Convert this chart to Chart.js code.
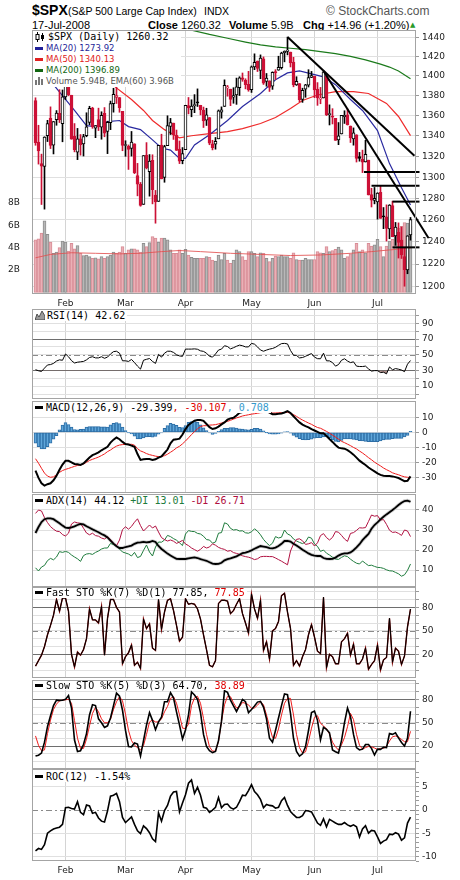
<!DOCTYPE html>
<html>
<head>
<meta charset="utf-8">
<script src="https://cdn.jsdelivr.net/npm/chart.js@4.4.1/dist/chart.umd.min.js"></script>
<style>
  body { margin: 0; background: #fff; width: 460px; height: 880px; position: relative; overflow: hidden; font-family: 'Liberation Sans', Arial, sans-serif; }
  canvas { position: absolute; left: 0; }
  .t { position: absolute; white-space: nowrap; color: #000; font-family: 'Liberation Sans', Arial, sans-serif; }
  .lg { position: absolute; z-index: 5; background: #fff; font-family: 'DejaVu Sans Mono', monospace; font-size: 10px; line-height: 11px; white-space: nowrap; padding-right: 2px; }
  .ma { font-family: 'DejaVu Sans', sans-serif; font-size: 8.5px; height: 11px; line-height: 11px; }
  .sw { display: inline-block; width: 8px; height: 3px; vertical-align: middle; margin: 0 3px 1px 2px; }
  svg { vertical-align: middle; }
</style>
</head>
<body>

<!-- header -->
<div class="t" style="left:32px;top:2px;font-size:14px;font-weight:bold">$SPX</div>
<div class="t" style="left:68px;top:5px;font-size:10.5px">(S&amp;P 500 Large Cap Index)</div>
<div class="t" style="left:204px;top:5px;font-size:10.5px">INDX</div>
<div class="t" style="left:326px;top:4px;font-size:12px;color:#555">&copy; StockCharts.com</div>
<div class="t" style="left:32px;top:19px;font-size:11px">17-Jul-2008</div>
<div class="t" style="left:148px;top:19px;font-size:11px"><b>Close</b> 1260.32</div>
<div class="t" style="left:229px;top:19px;font-size:11px"><b>Volume</b> 5.9B</div>
<div class="t" style="left:303px;top:19px;font-size:11px"><b>Chg</b> +14.96 (+1.20%)</div>
<div class="t" style="left:410px;top:21px;font-size:7px;color:#2a9a2a;font-family:'DejaVu Sans'">&#9650;</div>

<!-- legends -->
<div class="lg" style="left:33px;top:31px;width:146px;height:56px">
  <div style="height:12px;line-height:12px"><svg width="10" height="10" style="margin:0 3px 0 2px"><line x1="2.5" y1="0" x2="2.5" y2="10" stroke="#000"/><rect x="1" y="2.5" width="3" height="5" fill="#fff" stroke="#000"/><line x1="7.5" y1="1" x2="7.5" y2="9" stroke="#000"/><rect x="6" y="3" width="3" height="4" fill="#000"/></svg>$SPX (Daily) 1260.32</div>
  <div class="ma" style="color:#1f1f99"><span class="sw" style="background:#1f1f99"></span>MA(20) 1273.92</div>
  <div class="ma" style="color:#e02020"><span class="sw" style="background:#e02020"></span>MA(50) 1340.13</div>
  <div class="ma" style="color:#116611"><span class="sw" style="background:#116611"></span>MA(200) 1396.89</div>
  <div class="ma" style="color:#555"><svg width="9" height="8" style="margin:0 2px 1px 2px"><rect x="0" y="3" width="2" height="5" fill="#777"/><rect x="3" y="0" width="2" height="8" fill="#777"/><rect x="6" y="2" width="2" height="6" fill="#777"/></svg>Volume 5.94B, EMA(60) 3.96B</div>
</div>
<div class="lg" style="left:33px;top:310px;height:11px"><svg width="10" height="9" style="margin:0 2px 1px 2px"><path d="M0 9 L2 3 L4 6 L7 0 L10 5 L10 9 Z" fill="#999" stroke="#333" stroke-width="0.8"/></svg>RSI(14) 42.62</div>
<div class="lg" style="left:33px;top:402px;height:11px"><span class="sw" style="background:#000"></span>MACD(12,26,9) -29.399<span style="color:#e00000">, -30.107</span><span style="color:#3399cc">, 0.708</span></div>
<div class="lg" style="left:33px;top:495px;height:11px"><span class="sw" style="background:#000"></span>ADX(14) 44.12 <span style="color:#1e7b3c">+DI 13.01</span> <span style="color:#b01040">-DI 26.71</span></div>
<div class="lg" style="left:33px;top:588px;height:10px;line-height:10px"><span class="sw" style="background:#000"></span>Fast STO %K(7) %D(1) 77.85, <span style="color:#e00000">77.85</span></div>
<div class="lg" style="left:33px;top:681px;height:9px;line-height:9px"><span class="sw" style="background:#000"></span>Slow STO %K(5) %D(3) 64.70, <span style="color:#e00000">38.89</span></div>
<div class="lg" style="left:33px;top:771px;height:11px"><span class="sw" style="background:#000"></span>ROC(12) -1.54%</div>

<script>
// month axis: index of the first trading day of each month
const monthIdx = [10, 30, 50, 72, 93, 114];
const monthNames = ['Feb', 'Mar', 'Apr', 'May', 'Jun', 'Jul'];
const priceTicks = [1200, 1220, 1240, 1260, 1280, 1300, 1320, 1340, 1360, 1380, 1400, 1420, 1440];
const volTicks = [2, 4, 6, 8];

// $SPX daily, 17 Jan 2008 .. 17 Jul 2008
const open = [1374.8,1333.9,1312.9,1310.4,1340.1,1357.3,1330.7,1355.9,1362.2,1352.0,
1378.6,1395.4,1380.3,1339.5,1324.0,1336.9,1331.9,1340.0,1353.1,1367.3,
1347.5,1355.9,1348.4,1362.2,1344.2,1352.8,1371.8,1378.0,1378.0,1364.1,
1330.5,1329.6,1327.7,1332.2,1301.5,1293.2,1274.4,1321.1,1305.3,1316.1,
1283.2,1277.2,1331.0,1299.7,1330.3,1349.1,1352.4,1340.3,1327.0,1315.9,
1326.4,1370.0,1365.7,1369.9,1373.7,1370.2,1365.5,1355.4,1358.0,1332.2,
1331.7,1337.0,1363.4,1369.0,1387.7,1386.4,1378.4,1380.5,1387.9,1398.0,
1395.6,1391.2,1386.0,1409.2,1415.3,1405.6,1417.5,1394.3,1394.9,1389.4,
1404.4,1405.7,1408.4,1423.9,1425.3,1424.5,1414.1,1390.8,1392.2,1376.0,
1386.5,1390.5,1398.4,1399.6,1386.4,1376.3,1377.5,1400.1,1360.8,1359.0,
1357.1,1335.8,1341.8,1358.9,1360.7,1349.6,1336.9,1341.0,1319.8,1317.2,
1314.5,1316.3,1283.6,1278.1,1276.7,1285.8,1263.0,1262.9,1251.8,1273.4,
1245.3,1248.7,1241.6,1226.8,1214.7,1246.3];
const high = [1377.7,1350.3,1322.1,1339.0,1355.2,1368.6,1354.0,1364.9,1385.9,1385.6,
1396.0,1395.4,1380.3,1352.0,1347.2,1341.2,1341.4,1362.7,1369.2,1368.2,
1350.0,1367.3,1363.7,1367.9,1354.3,1374.4,1387.3,1388.3,1378.0,1364.1,
1335.1,1331.0,1344.2,1332.2,1313.2,1295.0,1320.7,1333.3,1321.7,1321.5,
1287.5,1330.7,1341.5,1330.7,1359.7,1357.1,1352.4,1345.6,1334.9,1328.5,
1370.2,1378.0,1375.7,1380.9,1386.7,1370.2,1368.4,1367.2,1358.0,1335.6,
1338.3,1365.5,1368.6,1395.9,1390.2,1386.4,1387.9,1397.7,1399.1,1402.9,
1397.0,1404.6,1410.1,1422.7,1415.3,1421.6,1419.5,1402.4,1394.9,1404.1,
1406.3,1420.2,1424.4,1425.8,1440.2,1424.5,1419.1,1399.1,1392.2,1387.4,
1391.3,1406.3,1404.5,1399.6,1393.1,1388.2,1404.1,1400.1,1370.6,1366.8,
1357.1,1353.0,1360.0,1364.7,1366.6,1349.6,1347.7,1341.0,1323.8,1326.0,
1335.6,1316.3,1289.5,1290.3,1285.3,1292.2,1271.5,1274.0,1274.2,1277.4,
1257.7,1257.3,1253.5,1234.4,1245.5,1262.3];
const low = [1330.7,1312.5,1274.3,1270.0,1334.3,1327.5,1322.3,1350.3,1353.0,1334.1,
1375.9,1379.7,1336.6,1324.3,1316.8,1321.1,1320.3,1339.0,1350.8,1347.3,
1338.1,1345.1,1336.6,1339.0,1322.6,1346.0,1363.3,1372.0,1363.2,1325.4,
1320.0,1307.4,1320.2,1303.4,1282.4,1272.7,1274.4,1307.9,1282.1,1274.9,
1257.0,1277.2,1298.4,1295.2,1330.3,1341.2,1336.4,1325.7,1313.0,1312.8,
1326.4,1361.6,1358.7,1362.8,1369.0,1360.6,1348.1,1350.1,1331.2,1326.2,
1326.9,1337.0,1357.3,1369.0,1379.3,1369.8,1372.2,1371.1,1380.0,1394.4,
1386.7,1384.3,1383.1,1406.3,1404.4,1397.1,1391.2,1389.4,1384.1,1386.2,
1396.3,1405.7,1406.9,1414.4,1421.6,1409.1,1388.8,1390.2,1373.7,1373.1,
1378.2,1388.6,1398.1,1377.8,1370.1,1371.7,1377.5,1359.9,1350.6,1351.6,
1335.5,1331.3,1341.7,1352.1,1350.5,1333.4,1330.8,1314.5,1315.3,1304.4,
1314.5,1283.2,1272.0,1274.9,1260.7,1261.5,1252.0,1240.7,1242.8,1244.6,
1236.8,1225.4,1225.0,1200.4,1211.4,1241.5];
const close = [1333.25,1325.19,1310.50,1338.60,1352.07,1330.61,1353.96,1362.30,1355.81,1378.55,
1395.42,1380.82,1336.64,1326.45,1336.91,1331.29,1339.13,1348.86,1367.21,1348.86,
1349.99,1348.78,1360.03,1342.53,1353.11,1371.80,1381.29,1380.02,1367.68,1330.63,
1331.34,1326.75,1333.70,1304.34,1293.37,1273.37,1320.65,1308.77,1315.48,1288.14,
1276.60,1330.74,1298.42,1329.51,1349.88,1352.99,1341.13,1325.76,1315.22,1322.70,
1370.18,1367.53,1369.31,1370.40,1372.54,1365.54,1354.49,1360.55,1332.83,1328.32,
1334.43,1364.71,1365.56,1390.33,1388.17,1375.94,1379.93,1388.82,1397.84,1396.37,
1390.94,1385.59,1409.34,1413.90,1407.49,1418.26,1392.57,1397.68,1388.28,1403.58,
1403.04,1408.66,1423.57,1425.35,1426.63,1413.40,1390.71,1394.35,1375.93,1385.35,
1390.84,1398.26,1400.38,1385.67,1377.65,1377.20,1404.05,1360.68,1361.76,1358.44,
1335.49,1339.87,1360.03,1360.14,1350.93,1337.81,1342.83,1317.93,1318.00,1314.29,
1321.97,1283.15,1278.38,1280.00,1284.91,1261.52,1262.90,1252.31,1273.70,1244.69,
1253.39,1239.49,1228.30,1214.91,1245.36,1260.32];
const prevClose0 = 1373.20;

// volume, billions
const volume = [4.7,4.8,5.3,6.4,5.2,4.5,3.5,3.6,4.0,4.6,
4.5,3.7,4.4,3.9,4.2,3.5,3.3,3.35,3.2,3.05,
3.1,3.0,3.2,3.05,3.2,3.35,3.6,3.5,3.6,4.1,
3.5,3.8,3.9,3.9,3.8,3.6,4.4,4.1,4.45,5.0,
4.85,4.5,4.85,4.85,4.7,3.8,3.5,3.5,3.8,3.5,
3.85,3.35,3.15,3.05,3.05,3.05,3.05,3.2,3.15,2.9,
2.8,3.35,2.95,3.5,2.9,2.6,2.9,3.8,3.65,3.2,
2.9,3.65,3.65,3.5,3.2,3.55,3.5,3.05,2.75,3.05,
3.25,3.2,3.35,3.2,3.2,3.05,3.55,2.95,2.9,2.9,
3.05,2.95,2.95,2.95,3.65,3.55,3.5,4.1,3.65,3.75,
3.85,4.05,3.8,3.05,3.2,3.45,3.8,4.4,3.65,3.8,
3.55,4.4,4.15,4.25,4.75,4.1,3.2,4.15,4.6,4.75,
5.3,5.75,5.9,6.25,6.2,5.94];

// overlays, [bar index, value]
const volEma60 = [[0,3.1],[5,3.4],[12,3.55],[20,3.5],[28,3.45],[35,3.5],[42,3.65],[48,3.75],[55,3.65],[65,3.5],[75,3.4],[85,3.3],[95,3.35],[105,3.5],[112,3.65],[118,3.8],[125,3.96]];
const ma20 = [[0,1425],[3,1407],[6,1391],[10,1376],[13,1365],[17,1350],[20,1349],[24,1354],[28,1355],[31,1349],[35,1346],[39,1336],[42,1328],[45,1326],[48,1318],[50,1318],[53,1331],[58,1341],[64,1355],[69,1369],[75,1382],[80,1396],[84,1403],[88,1405],[92,1402],[96,1399],[100,1391],[105,1376],[109,1365],[114,1345],[118,1313],[122,1290],[125,1273.92]];
const ma50 = [[0,1462],[10,1440],[20,1412],[26,1390],[32,1376],[36,1365],[39,1355],[43,1346],[48,1338],[52,1340],[58,1342],[64,1344],[69,1347],[75,1352],[80,1358],[85,1367],[89,1375],[94,1380.5],[100,1384],[106,1384],[111,1382],[117,1372],[121,1359],[125,1340.13]];
const ma200 = [[44,1453],[52,1447.5],[58,1443],[64,1439],[70,1435],[75,1432],[80,1430],[85,1428.5],[90,1427],[95,1425],[100,1423],[105,1420],[110,1416.5],[115,1412],[118,1409],[121,1405],[125,1396.89]];

// drawn trendlines, [bar index, price]
const trendLines = [
  [[84,1440.2],[126.3,1320.6]],
  [[96,1405],[131,1243.4]],
  [[109.5,1305],[128,1305]],
  [[112,1292],[128,1292]],
  [[119,1277],[128,1277]],
  [[119,1235],[128,1235]]
];

const rsi = [31,29.6,28.8,33,37,37.5,39,42,43.5,43,
51,47.5,42.5,39.5,40.5,41,41.5,43.5,46.5,47.5,
46,46,47.5,45.5,47,51,54,54.5,52,42.3,
42.3,41.5,44,40,35.5,31.7,43,44.2,45.2,41.5,
39,50.5,47,52,54.5,54.5,53,50,48.5,48,
57.2,57.2,57.2,57.5,57,55,54.3,52,48,47,
51,56,57.2,61.5,60.5,57.5,59,60.8,62.3,61.5,
60,60,64.5,63.5,60,56,54.5,56,57.2,58,
59.5,62,64.2,64.5,63.8,55.5,49.5,49.1,46,46.5,
48,50,51.5,47,45,44.9,52,42.3,42.2,40,
35.5,37.5,43,44.9,42,40,41,35.5,35,35,
35.5,32,29.2,29.8,29.8,27.3,27.8,25.7,34.5,30.8,
32.4,31.6,30.5,28.5,38,42.62];

const macd = [-25.6,-30.4,-34,-35.5,-34.6,-34,-32,-29,-25,-21.5,
-19,-19,-20,-21.1,-21.3,-21.8,-20.8,-18.8,-16.8,-15.2,
-14.4,-13.4,-12,-10.8,-9.7,-6.9,-4.9,-3.5,-4.6,-6.4,
-7.8,-8.1,-8.9,-9.7,-14.5,-18.4,-18,-17.8,-17.8,-18.4,
-18,-16.9,-16,-13.8,-11.5,-7.3,-4.9,-4.7,-4.2,-1.5,
2.1,4.9,6.4,7.7,8.2,8.2,7.6,5.5,3.4,2.2,
2.7,3.8,5.3,6.6,8.4,9.3,9.7,11.2,13,13.5,
13.5,13.5,14.5,15.5,15.8,16,15,14.2,13.2,12.1,
12.1,12.3,12.6,13.2,14.1,12.9,10.7,8.6,6.6,5.1,
4.1,3.3,2.1,1.2,0.3,-0.7,-0.7,-2.5,-4.5,-6.4,
-8.5,-10.2,-10.7,-10.9,-11.9,-13.3,-14.9,-16.9,-18.9,-20.4,
-21.8,-23.5,-24.8,-26.1,-27.4,-28.4,-28.9,-29.1,-29.1,-29.4,
-29.9,-30.5,-31.5,-32.6,-32.3,-29.399];
const macdSignal = [-17.6,-20.6,-24,-27.2,-29.2,-30,-29.7,-28.3,-26.7,-25.5,
-24.7,-24.1,-23.4,-22.7,-22.1,-21.8,-21.1,-20,-18.8,-18,
-17.3,-16.5,-15.5,-14.4,-12.9,-11.8,-10.4,-9.2,-8.5,-8.2,
-8,-8,-8,-8.6,-10.9,-12.4,-13.2,-14.2,-14.9,-15.4,
-15.9,-16.2,-16.1,-15.6,-14.6,-13.3,-12,-10.4,-9.3,-7.7,
-5.8,-3.7,-1.5,0.4,2.4,3.8,4.4,4.4,4.8,4.9,
5.1,5.6,6.2,6.8,7.3,8,8.8,9.6,10.2,10.9,
11.3,11.7,12.1,12.4,12.7,13.1,13.2,13.3,13.1,12.8,
12.9,13,13.1,13.2,13.3,12.7,11.8,10.6,9.3,8.2,
7.2,6.2,5.3,4.2,3.2,2.7,1.7,0.6,-0.6,-1.9,
-3.2,-4.6,-6,-6.9,-7.9,-8.9,-10.1,-11.1,-12.5,-13.8,
-15.3,-16.9,-18.3,-19.9,-21.2,-22.4,-23.8,-24.9,-25.9,-27,
-27.7,-28.3,-29.1,-29.7,-30,-30.107];
const macdHist = [-7.3,-9.5,-11,-11,-9.5,-7.3,-4.5,-2.2,1.7,4.8,
6.5,5.2,3.5,1.8,1.7,2,2.2,3.5,3.8,3.8,
3.8,3.8,3.6,3.7,3.5,4.9,6,6.5,5.8,3.5,
1.2,-0.2,-1.1,-2.5,-4.4,-4.4,-3.8,-3,-2.9,-3.2,
-2.8,-1.3,-0.3,2.7,4.5,6,5.5,4.6,3.3,3.2,
4.5,6.7,7.1,7.1,6.6,4.9,2.9,1.1,-0.3,-1.4,
-0.8,0.6,1.8,2.6,2.7,3.1,3.1,2.8,2.3,2.1,
1.8,1.6,1.9,2.6,2.7,2.2,1,-0.1,-1,-1.3,
-1.3,-1.1,-0.6,0.2,0.4,-0.5,-2,-3.3,-4.2,-4.9,
-5.1,-4.9,-4.5,-3.9,-3.6,-3.6,-3,-2.9,-3.6,-5,
-6.1,-6.4,-5.4,-4.4,-4.4,-4.4,-4.7,-5,-5.6,-5.8,
-6,-6.2,-6.2,-6.2,-6.2,-5.8,-5.1,-4.7,-4.7,-4.2,
-4,-4,-4,-3.1,-2,0.708];

const adx = [28.5,31.5,34,35.4,35.8,35.8,35.4,34.4,33.4,32.2,
31.2,31,31.3,31.8,32.5,33,32.8,31.9,31.1,30.3,
29.6,28.9,28,27.3,26.3,24.7,23.2,21.9,21,21,
21.5,21.8,22.2,23.1,23.7,23.8,24.1,23.8,24,24.5,
24,22,20.5,19.4,18.2,17.2,16.4,15.6,15.5,15.5,
15.5,15.8,16.1,16.3,16,15.4,15,14.6,13.9,13.2,
13,13.1,13.6,14.8,15.4,15.8,16.3,16.8,17.6,18.4,
18.7,19.2,19.8,20.6,21.3,22,21.7,21.4,20.9,20.8,
21.2,22,23.1,24.5,24.6,24.2,23.1,22.2,21.2,20.1,
19.2,18.3,17.6,17.2,17,17,16,15.6,15.5,15.6,
16.2,17.2,17.9,18.3,18.3,18.8,19.9,21.3,22.9,24.9,
26.5,28,30.6,32.5,33.8,35.3,36.6,37.8,38.9,40,
41.2,42.5,43.6,44.5,44.7,44.12];
const plusDI = [11.1,9.5,11.5,12.3,14.7,15.8,15.1,16.5,19.2,18.8,
19.3,18.8,17.5,16.5,15.6,14.3,17.2,18,18.2,17.8,
18.8,19.5,20.5,21,21,23.3,22.7,21.9,20.5,19,
18.5,18,17,18.8,16.2,16.8,19.8,22.5,19,17,
21.5,24,23.9,25,27.3,26.7,25.7,24.9,23.6,22.2,
28,29.7,29.3,29.2,28.3,28,26.9,25.2,25,23.4,
24,28.4,28.7,33.6,33,30.8,30,30.2,29.5,29.6,
28.6,28.4,29.1,30.6,29.4,27.6,25.3,23.6,22.2,23.4,
26.7,26,26.4,30,28,27.3,25.5,24.5,23.8,23.2,
24,26.5,25.9,23,21.8,19.3,20,18.4,17.5,16.4,
15.5,15.3,16.3,17.1,16.7,15.4,14.3,13.4,13,14.5,
13.3,12.2,12.4,11.8,11.3,11.2,10.8,10.1,9.6,9.5,
8.8,8.1,6.9,7.6,9.8,13.01];
const minusDI = [38.3,40,39.5,36.2,33.7,31.7,30.4,29.4,29.2,27.7,
27,28.4,33,34,33.6,33.3,30.9,28.5,27.6,28.4,
27.2,26.9,26,25.5,26.6,25.3,23.2,22.1,25,30.2,
31.6,30.4,31.8,33.9,35.6,32.2,29.5,31,32.5,31,
32,29,26.2,25.2,24.5,25,24.4,23.3,24,24.8,
23,22.2,21,20.2,19.4,20.3,21.8,21,21.5,23.1,
22.4,21.3,20.7,20.3,19.4,19.7,18.7,18.3,17.8,17.1,
16.7,16.4,15.9,15.2,15.6,16.6,16.8,16.8,16.7,16.7,
16,15.2,14.4,13.5,12.6,19.5,23,25.3,25.6,24.6,
22.8,23.1,23.7,22,23.6,27.2,28.2,26.2,25,26.3,
29.2,28.9,27.3,25.5,24.3,28.3,28.7,29.8,31.1,31,
31.2,34.3,37.5,36.9,37.2,35,35.2,32.8,29.9,28.8,
29,28.3,27.3,30,29.5,26.71];

// fast stochastic: %D(1) is the same series as %K
const fastK = [5,12,19,30,45,57,70,90,75,92,
92,75,20,4,23,19,26,40,78,64,
64,60,81,19,66,90,90,80,74,8,
17,22,32,6,10,2,65,53,59,28,
25,90,52,74,89,91,76,57,37,42,
91,84,85,84,78,65,45,26,6,4,
12,85,89,89,88,72,76,84,91,72,
60,47,97,78,66,89,25,36,14,50,
53,62,95,98,74,53,6,12,5,17,
26,45,58,42,24,21,93,3,20,17,
8,8,36,40,47,19,33,8,8,14,
28,1,7,12,32,0,13,16,66,10,
28,24,7,18,55,77.85];
const slowK = [7.1,8.2,11,25,45,59,72,79,78.5,78.8,
80,85,69,27.7,13,14,22,36,60,73,
72,55,50,44,46,56,72,88,84,66,
40,19.5,19,24,22.5,7.1,27,47,63,53,
41,51,57,77,77,88.6,82,64,47,29,
40.6,60,89.5,85.6,80,63,35,19.5,14,11.6,
13,27,52,91,89,79,71.5,64.5,72,80,
77,63,67,71.5,76.5,77.5,70,55,30,25,
40,56,72,87,86,62,30,13,7,10,
19,40,63,65,53,28,44,41.4,37,15,
12.7,11,27,50,69,57.7,35,18,15,16,
22,22,17,8.5,16,15.7,18.5,18,36,35,
37,30.5,24.5,20,30,64.7];
const slowD = [33,21,14,15,36,53.4,67,74,78,79.1,
79.5,80,75,53,30,17,17,29,46,62,
70,64,55,50,50,54.3,67,77,83.5,78,
61,40,27,21,18,14.9,20.5,35,51,53.4,
51,51,55,64,71,81.3,83.4,75,60,43,
42.5,48,72,82,84,75,55.5,35,19,13.5,
13.5,26,52,73,84,83.4,75.5,69,70.5,76,
75,73,68.5,69,72.5,77,73,60,45,31,
30,42,60,75,81.3,81.3,60,35,18,11,
12.5,26,43,57,59,49.1,46,42,35.5,25,
19,14.9,21.5,31,44.9,62,54,35,21,16,
18,19.5,19,17.5,15.5,17,17,19.7,26.5,32,
32.9,31.5,28.5,25.6,25.6,38.89];

const roc = [-8.8,-8.3,-8.5,-7.5,-5,-4.5,-4.1,-3.9,-3.7,-3.1,
0.5,0.6,0.35,0.2,1.8,-0.5,-1,1.1,0.9,-0.7,
-0.5,-1.7,-2.4,-2.6,-0.2,3,3.2,3.6,1.8,-1.6,
-2.7,-2.1,-1.5,-3.1,-4.5,-5.1,-3.4,-4,-4.9,-6.2,
-6.8,-0.6,-2.4,-0.1,1,3,3.9,4,-0.4,1.5,
3.3,5.8,6.5,3.6,4.9,3.2,0.6,0.4,-0.5,0,
0.6,2.7,0.5,1.2,1.3,0.5,0.2,0.6,1.8,3.2,
3.1,4.2,5.5,4,3.3,2.3,0.5,1.2,1,0.9,
0.4,0.6,2,2.7,1,-0.3,-1,-1.6,-1.6,-1.2,
-0.1,-0.2,-0.4,-1.6,-2.8,-3.3,-1.9,-3.6,-2,-2.4,
-2.8,-3.1,-3.1,-2.7,-3.2,-3.5,-3.2,-3.6,-5.8,-4.1,
-3.4,-5,-4.4,-4.5,-5.8,-7.2,-6.7,-6.4,-5.2,-5.3,
-4.9,-5.2,-6.5,-6,-2.8,-1.54];

// ---------------------------------------------------------------
const RED = '#cc1136';
const X_MIN = -7 / 6, X_MAX = X_MIN + 128;   // 3px per bar over a 384px plot

const pts = arr => arr.map((v, i) => ({ x: i, y: v }));
const pairs = arr => arr.map(p => ({ x: p[0], y: p[1] }));

const isUp = close.map((c, i) => c >= (i ? close[i - 1] : prevClose0));
const candleColor = isUp.map(u => u ? '#000' : RED);
const bodyFill = close.map((c, i) => c > open[i] ? '#fff' : candleColor[i]);

Chart.defaults.font.family = "'DejaVu Sans', sans-serif";
Chart.defaults.font.size = 9;
Chart.defaults.color = '#333';

// panel frame + horizontal reference lines
Chart.register({
  id: 'frame',
  beforeDatasetsDraw(chart, args, opts) {
    const a = chart.chartArea, ctx = chart.ctx, y = chart.scales.y;
    (opts.lines || []).forEach(l => {
      const py = Math.round(y.getPixelForValue(l.v)) + 0.5;
      ctx.save();
      ctx.strokeStyle = l.color;
      ctx.lineWidth = 1;
      ctx.setLineDash(l.dash || []);
      ctx.beginPath(); ctx.moveTo(a.left, py); ctx.lineTo(a.right, py); ctx.stroke();
      ctx.restore();
    });
  },
  afterDraw(chart) {
    const a = chart.chartArea, ctx = chart.ctx;
    ctx.save();
    ctx.strokeStyle = '#a4a4a4';
    ctx.lineWidth = 1;
    ctx.strokeRect(Math.round(a.left) + 0.5, Math.round(a.top) + 0.5,
      Math.round(a.right - a.left) - 1, Math.round(a.bottom - a.top) - 1);
    ctx.restore();
  }
});

function xAxis(labels) {
  return {
    type: 'linear', min: X_MIN, max: X_MAX, offset: false,
    afterBuildTicks: s => { s.ticks = monthIdx.map(v => ({ value: v })); },
    afterFit: s => { s.height = labels ? 16 : 0; s.paddingLeft = 0; s.paddingRight = 0; },
    ticks: { display: labels, autoSkip: false, maxRotation: 0, padding: 4, color: '#222',
      callback: (v, i) => monthNames[i] },
    grid: { color: '#d4d4d4', drawTicks: false, offset: false },
    border: { display: false }
  };
}

function yAxis(min, max, ticks, labels, gridVals) {
  return {
    position: 'right', min, max,
    afterBuildTicks: s => { s.ticks = ticks.map(v => ({ value: v })); },
    afterFit: s => { s.width = 44; s.paddingTop = 0; s.paddingBottom = 0; },
    ticks: { autoSkip: false, padding: 3, color: '#222',
      callback: v => labels.includes(v) ? String(v) : '' },
    grid: { color: c => gridVals.includes(c.tick.value) ? '#e0e0e0' : 'rgba(0,0,0,0)',
      tickColor: '#999', tickLength: 3 },
    border: { display: false }
  };
}

function makeChart(top, height, config) {
  const cv = document.createElement('canvas');
  cv.width = 460; cv.height = height;
  cv.style.top = top + 'px';
  document.body.appendChild(cv);
  config.options = Object.assign({
    responsive: false, animation: false, events: [],
  }, config.options);
  config.options.plugins = Object.assign({
    legend: { display: false }, tooltip: { enabled: false }
  }, config.options.plugins || {});
  return new Chart(cv, config);
}

const line = (data, color, width, extra) => Object.assign({
  type: 'line', data, borderColor: color, borderWidth: width,
  pointRadius: 0, tension: 0, fill: false
}, extra || {});

// ---------------- price panel ----------------
const tlSets = trendLines.map(t => line(pairs(t), '#000', 2, { clip: false, order: 1 }));

makeChart(28, 282, {
  type: 'bar',
  data: {
    datasets: [
      { type: 'bar', yAxisID: 'yv', data: pts(volume), order: 10, grouped: false,
        backgroundColor: isUp.map(u => u ? '#b8b8b8' : '#eab0b6'),
        borderColor: isUp.map(u => u ? '#8e8e8e' : '#d98c96'),
        borderWidth: 1, borderSkipped: false, barThickness: 3 },
      line(pairs(volEma60), 'rgba(226,80,80,0.85)', 1, { yAxisID: 'yv', order: 9 }),
      line(pairs(ma200), '#1b7a1b', 1.2, { order: 8 }),
      line(pairs(ma50), '#ef2b2b', 1.2, { order: 7 }),
      line(pairs(ma20), '#2a2aa0', 1.2, { order: 6 }),
      { type: 'bar', data: low.map((l, i) => ({ x: i, y: [l, high[i]] })), order: 3, grouped: false,
        backgroundColor: candleColor, barThickness: 1 },
      { type: 'bar', data: open.map((o, i) => ({ x: i, y: [o, close[i]] })), order: 2, grouped: false,
        backgroundColor: bodyFill, borderColor: candleColor, borderWidth: 1,
        borderSkipped: false, barThickness: 3, minBarLength: 1 },
      ...tlSets
    ]
  },
  options: {
    layout: { padding: { top: 2, left: 0, right: 0, bottom: 0 } },
    scales: {
      x: xAxis(true),
      y: Object.assign(yAxis(1193.6, 1447.7, priceTicks, priceTicks, priceTicks), { type: 'logarithmic' }),
      yv: {
        type: 'linear', position: 'left', min: -0.134, max: 23.44,
        afterBuildTicks: s => { s.ticks = volTicks.map(v => ({ value: v })); },
        afterFit: s => { s.width = 32; s.paddingTop = 0; s.paddingBottom = 0; },
        ticks: { padding: 4, color: '#222', callback: v => v + 'B' },
        grid: { display: false }, border: { display: false }
      }
    }
  }
});

const subOpts = (showX, y, lines) => ({
  layout: { padding: { top: 0, left: 32, right: 0, bottom: 0 } },
  plugins: { frame: { lines } },
  scales: { x: xAxis(showX), y }
});
const tens = [0, 10, 20, 30, 40, 50, 60, 70, 80, 90, 100];
const dashDot = [6, 3, 2, 3];

// ---------------- RSI ----------------
makeChart(309, 90, {
  type: 'line',
  data: { datasets: [
    line(pts(rsi), '#000', 1, { fill: { target: { value: 30 }, above: 'rgba(0,0,0,0)', below: 'rgba(150,105,100,0.75)' } })
  ] },
  options: subOpts(false, yAxis(-6.37, 108.3, tens, [10, 30, 50, 70, 90], tens),
    [{ v: 70, color: '#6e6e6e' }, { v: 30, color: '#6e6e6e' }, { v: 50, color: '#8a8a8a', dash: dashDot }])
});

// ---------------- MACD ----------------
makeChart(401, 92, {
  type: 'bar',
  data: { datasets: [
    { type: 'bar', data: pts(macdHist), order: 5, grouped: false, barThickness: 3,
      backgroundColor: '#5fa6da', borderColor: '#2d6ea6', borderWidth: 1, borderSkipped: false },
    line(pts(macdSignal), '#ee1c1c', 1, { order: 2 }),
    line(pts(macd), '#000', 2, { order: 1 })
  ] },
  options: subOpts(false, yAxis(-40.47, 20.87, [-30, -20, -10, 0, 10], [-30, -20, -10, 0, 10], [-30, -20, -10, 0, 10]), [])
});

// ---------------- ADX ----------------
makeChart(494, 93, {
  type: 'line',
  data: { datasets: [
    line(pts(adx), '#cfcfcf', 3.5, { order: 4 }),
    line(pts(plusDI), '#1e7b3c', 1, { order: 3 }),
    line(pts(minusDI), '#b01040', 1, { order: 2 }),
    line(pts(adx), '#000', 1.8, { order: 1 })
  ] },
  options: subOpts(false, yAxis(1.5, 48, [10, 20, 30, 40], [10, 20, 30, 40], [10, 20, 30, 40]), [])
});

// ---------------- Fast STO ----------------
makeChart(587, 91, {
  type: 'line',
  data: { datasets: [
    line(pts(fastK), '#7a0000', 1.4, { order: 2 }),
    line(pts(fastK), '#000', 1, { order: 1 })
  ] },
  options: subOpts(false, yAxis(-10.2, 106, tens, [20, 50, 80], tens),
    [{ v: 80, color: '#6e6e6e' }, { v: 20, color: '#6e6e6e' }, { v: 50, color: '#8a8a8a', dash: dashDot }])
});

// ---------------- Slow STO ----------------
makeChart(680, 89, {
  type: 'line',
  data: { datasets: [
    line(pts(slowD), '#ee1c1c', 1, { order: 2 }),
    line(pts(slowK), '#000', 1.6, { order: 1 })
  ] },
  options: subOpts(false, yAxis(-9.5, 104.9, tens, [20, 50, 80], tens),
    [{ v: 80, color: '#6e6e6e' }, { v: 20, color: '#6e6e6e' }, { v: 50, color: '#8a8a8a', dash: dashDot }])
});

// ---------------- ROC ----------------
const rocTicks = [];
for (let v = -11; v <= 8; v++) rocTicks.push(v);
makeChart(769, 108, {
  type: 'line',
  data: { datasets: [ line(pts(roc), '#000', 1.6) ] },
  options: subOpts(true, yAxis(-11.0, 8.86, rocTicks, [-10, -5, 0, 5], [-10, -5, 5]),
    [{ v: 0, color: '#8a8a8a', dash: dashDot }])
});
</script>
</body>
</html>
